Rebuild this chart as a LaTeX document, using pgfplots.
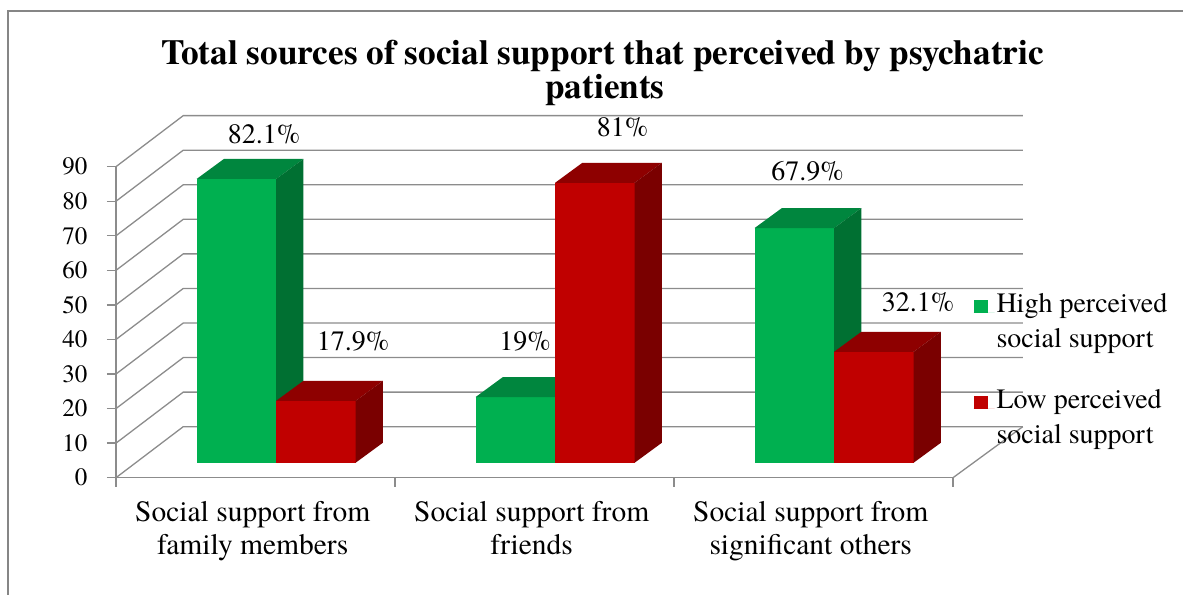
\documentclass[border=0pt]{standalone}
\usepackage{fontspec}
\setmainfont{texgyretermes}[Extension=.otf, UprightFont=*-regular, BoldFont=*-bold, ItalicFont=*-italic, BoldItalicFont=*-bolditalic]
\usepackage{pgfplots}
\pgfplotsset{compat=1.18}
\usepackage{pgfplotstable}

\definecolor{cgreen}{RGB}{0,176,80}
\definecolor{cgreentop}{RGB}{0,134,62}
\definecolor{cgreenside}{RGB}{0,112,50}
\definecolor{cred}{RGB}{192,0,0}
\definecolor{credtop}{RGB}{142,0,0}
\definecolor{credside}{RGB}{122,0,0}
\definecolor{gridc}{RGB}{140,140,140}
\definecolor{framec}{RGB}{134,134,134}

\pgfplotstableread{
idx high low
0 82.1 17.9
1 19 81
2 67.9 32.1
}\datatable

\def\bw{0.285}
\def\ay{4.34}
\def\bx{0.0978}
\def\by{5.79}
\def\Dx{0.241}
\def\Dy{14.76}
\def\Xb{3.25}

\newcommand\drawbar[5]{%
  \pgfmathsetmacro\xl{#1}%
  \pgfmathsetmacro\xr{#1+\bw}%
  \pgfmathsetmacro\xlb{\xl+\bx}%
  \pgfmathsetmacro\xrb{\xr+\bx}%
  \pgfmathsetmacro\yb{\ay}%
  \pgfmathsetmacro\yt{#2+\ay}%
  \pgfmathsetmacro\ybb{\ay+\by}%
  \pgfmathsetmacro\ytb{#2+\ay+\by}%
  \edef\temp{%
    \noexpand\addplot[forget plot, draw=none, fill=#3, mark=none] coordinates {(\xl,\yb) (\xr,\yb) (\xr,\yt) (\xl,\yt)};
    \noexpand\addplot[forget plot, draw=none, fill=#4, mark=none] coordinates {(\xl,\yt) (\xr,\yt) (\xrb,\ytb) (\xlb,\ytb)};
    \noexpand\addplot[forget plot, draw=none, fill=#5, mark=none] coordinates {(\xr,\yb) (\xr,\yt) (\xrb,\ytb) (\xrb,\ybb)};
  }\temp
}

\begin{document}
\begin{tikzpicture}
\useasboundingbox (0,0) rectangle (1183bp,595bp);
\draw[framec, line width=2bp] (8bp,0) -- (8bp,584bp) -- (1183bp,584bp);
\node[anchor=base, font=\bfseries\fontsize{35.2bp}{40bp}\selectfont] at (602.5bp,530.7bp) {Total sources of social support that perceived by psychatric};
\node[anchor=base, font=\bfseries\fontsize{35.2bp}{40bp}\selectfont] at (605bp,496.7bp) {patients};
\begin{axis}[
  at={(116bp,117.3bp)}, anchor=south west,
  x=279bp, y=3.456bp,
  xmin=0, xmax=3, ymin=0, ymax=90,
  clip=false,
  axis x line*=bottom, axis y line*=left,
  axis line style={gridc, line width=1.3bp, -},
  tick style={gridc, line width=1.3bp},
  tick align=outside,
  major tick length=9bp,
  ytick={0,10,...,90},
  xtick={0,1,2,3},
  xticklabels={},
  extra x ticks={0.49,1.49,2.49},
  extra x tick labels={{Social support from\\family members},{Social support from\\friends},{Social support from\\significant others}},
  extra x tick style={major tick length=0pt, tick label style={align=center, font=\fontsize{29.5bp}{33.5bp}\selectfont, yshift=-20bp}},
  yticklabel style={font=\fontsize{25bp}{30bp}\selectfont, xshift=-16bp},
  /pgf/number format/assume math mode=true,
  legend style={at={(axis cs:3.0728,53.88)}, anchor=north west, draw=none, fill=none,
    inner sep=0pt, row sep=37bp,
    font=\fontsize{28bp}{34.3bp}\selectfont,
    cells={anchor=base west, align=left, inner sep=0pt}},
  legend image code/.code={\path[#1] (0bp,34.3bp) rectangle (14bp,47.3bp); \path (0bp,34.3bp) -- (21bp,34.3bp);},
]
\pgfplotsinvokeforeach{0,10,...,90}{
  \draw[gridc, line width=1.3bp] (axis cs:0,#1) -- (axis cs:\Dx,{#1+\Dy}) -- (axis cs:\Xb,{#1+\Dy});
}
\draw[gridc, line width=1.3bp] (axis cs:3,0) -- (axis cs:\Xb,\Dy);
\pgfplotsinvokeforeach{0,1,2}{
  \pgfplotstablegetelem{#1}{high}\of\datatable
  \let\vh\pgfplotsretval
  \pgfplotstablegetelem{#1}{low}\of\datatable
  \let\vl\pgfplotsretval
  \drawbar{#1+0.289}{\vh}{cgreen}{cgreentop}{cgreenside}
  \drawbar{#1+0.574}{\vl}{cred}{credtop}{credside}
}
\addlegendimage{draw=none, fill=cgreen}
\addlegendentry{High perceived\\social support}
\addlegendimage{draw=none, fill=cred}
\addlegendentry{Low perceived\\social support}
\begin{scope}[font=\fontsize{28bp}{33bp}\selectfont]
\node[anchor=base] at (axis cs:0.5305,96.56) {82.1\%};
\node[anchor=base] at (axis cs:0.8495,36.75) {17.9\%};
\node[anchor=base] at (axis cs:1.466,36.75) {19\%};
\node[anchor=base] at (axis cs:1.8154,98.67) {81\%};
\node[anchor=base] at (axis cs:2.4785,85.94) {67.9\%};
\node[anchor=base] at (axis cs:2.8746,48.03) {32.1\%};
\end{scope}
\end{axis}
\end{tikzpicture}
\end{document}
